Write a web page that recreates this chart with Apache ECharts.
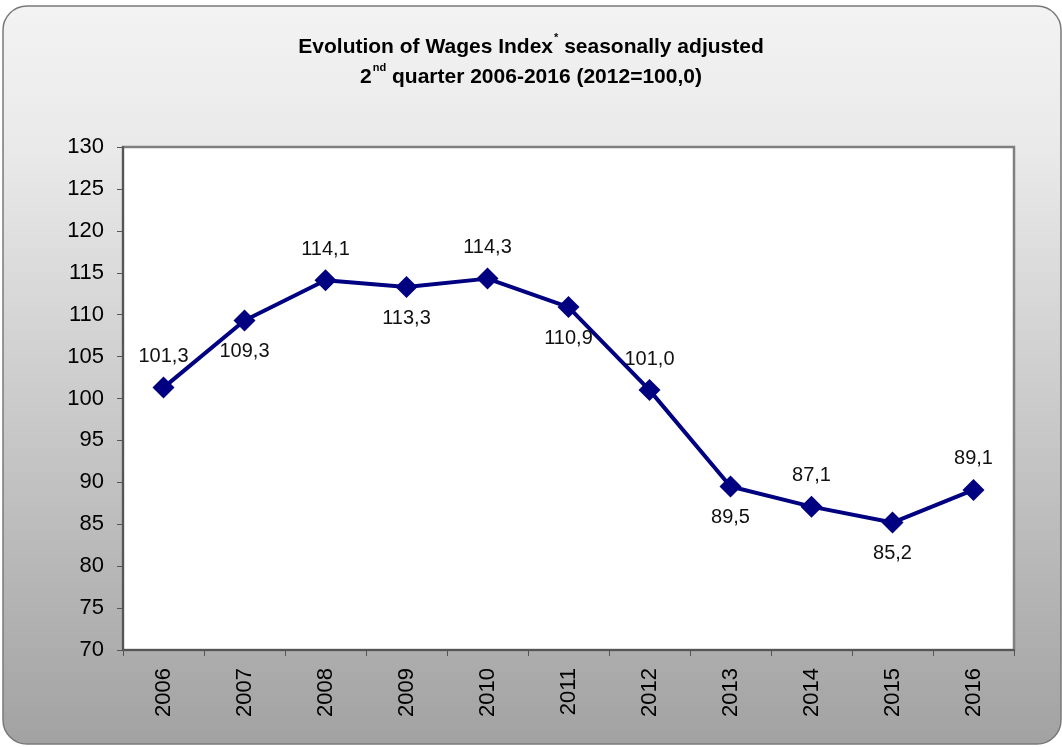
<!DOCTYPE html>
<html>
<head>
<meta charset="utf-8">
<script src="https://cdn.jsdelivr.net/npm/echarts@6/dist/echarts.min.js"></script>
<style>
  html, body { margin: 0; padding: 0; background: #fff; }
  #chart { width: 1062px; height: 747px; }
</style>
</head>
<body>
<div id="chart"></div>
<script>
const years = ['2006', '2007', '2008', '2009', '2010', '2011', '2012', '2013', '2014', '2015', '2016']
const wagesIndex = [101.3, 109.3, 114.1, 113.3, 114.3, 110.9, 101.0, 89.5, 87.1, 85.2, 89.1]
// where each value label sits relative to its point
const labelSides = ['top', 'bottom', 'top', 'bottom', 'top', 'bottom', 'top', 'bottom', 'top', 'bottom', 'top']

const chart = echarts.init(document.getElementById('chart'))

const fmt = (v) => v.toFixed(1).replace('.', ',')

chart.setOption({
  animation: false,
  textStyle: { fontFamily: 'Liberation Sans, Arial, sans-serif' },
  graphic: [{
    type: 'rect',
    z: -10,
    shape: { x: 3, y: 6, width: 1058, height: 738, r: 24 },
    style: {
      fill: new echarts.graphic.LinearGradient(0, 0, 0, 1, [
        { offset: 0, color: '#f3f3f3' },
        { offset: 0.2, color: '#e9e9e9' },
        { offset: 1, color: '#a2a2a2' }
      ]),
      stroke: '#7a7a7a',
      lineWidth: 1.5
    }
  }],
  title: {
    left: 'center',
    top: 27,
    text: '{b|Evolution of Wages Index}{sup|*}{b| seasonally adjusted}\n{b|2}{sup|nd}{b| quarter 2006-2016 (2012=100,0)}',
    textStyle: {
      rich: {
        b: { fontSize: 21, fontWeight: 'bold', color: '#000', lineHeight: 30 },
        sup: { fontSize: 11, fontWeight: 'bold', color: '#000', verticalAlign: 'top', lineHeight: 30, padding: [0, 0, 12, 1] }
      }
    }
  },
  grid: {
    left: 123,
    right: 48,
    top: 147,
    bottom: 97,
    show: true,
    backgroundColor: '#fff',
    borderColor: '#808080',
    borderWidth: 2.5
  },
  xAxis: {
    type: 'category',
    data: years,
    boundaryGap: true,
    axisLine: { lineStyle: { color: '#555', width: 2 } },
    axisTick: { show: true, length: 6, lineStyle: { color: '#555' } },
    axisLabel: { rotate: 90, margin: 18, fontSize: 22, color: '#000' },
    splitLine: { show: false }
  },
  yAxis: {
    type: 'value',
    min: 70,
    max: 130,
    interval: 5,
    axisLine: { show: true, lineStyle: { color: '#555', width: 2 } },
    axisTick: { show: true, length: 6, lineStyle: { color: '#555' } },
    axisLabel: { fontSize: 22, color: '#000', margin: 19 },
    splitLine: { show: false }
  },
  series: [{
    type: 'line',
    data: wagesIndex.map((v, i) => ({
      value: v,
      label: { position: labelSides[i] }
    })),
    lineStyle: { color: '#000080', width: 4 },
    itemStyle: { color: '#000080' },
    symbol: 'diamond',
    symbolSize: 22,
    label: {
      show: true,
      fontSize: 20,
      color: '#111',
      distance: 10,
      formatter: (p) => fmt(p.value)
    }
  }]
})
</script>
</body>
</html>
